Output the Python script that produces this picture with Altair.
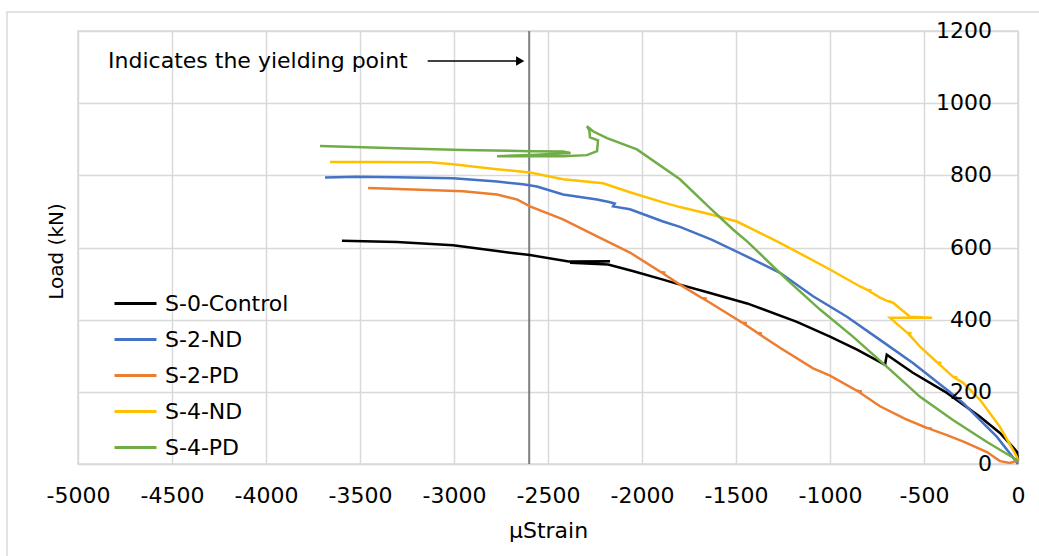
import altair as alt
import pandas as pd

FONT = "DejaVu Sans"

series_names = ["S-0-Control", "S-2-ND", "S-2-PD", "S-4-ND", "S-4-PD"]
series_colors = ["#000000", "#4472C4", "#ED7D31", "#FFC000", "#70AD47"]

x_tick_values = [-5000, -4500, -4000, -3500, -3000, -2500, -2000, -1500, -1000, -500, 0]
y_tick_values = [0, 200, 400, 600, 800, 1000, 1200]
y_tick_labels = ["0", "200", "400", "600", "800", "1000", "1200"]

# S-0-Control
s0_x = [0, -5, -27, -96, -202, -378, -559, -665, -698, -707, -856, -1000, -1176, -1441, -1638,
        -1798, -1888, -2050, -2180, -2383, -2170, -2390, -2596, -2771, -3005, -3303, -3596]
s0_y = [10, 33, 47, 86, 131, 197, 253, 291, 303, 275, 317, 353, 394, 445, 474,
        497, 511, 535, 553, 558, 562, 561, 579, 590, 606, 615, 619]

# S-2-ND
s1_x = [0, -16, -112, -292, -378, -559, -734, -910, -1090, -1266, -1441, -1630, -1798, -1888,
        -2064, -2154, -2145, -2175, -2239, -2420, -2559, -2633, -2771, -3005, -3303, -3516, -3686]
s1_y = [0, 11, 75, 169, 206, 280, 344, 408, 465, 530, 575, 622, 657, 672,
        706, 714, 722, 726, 733, 747, 769, 775, 783, 792, 795, 796, 794]

# S-2-PD
s2_x = [0, -43, -96, -165, -290, -378, -484, -458, -484, -600, -734, -856, -830, -856, -1000,
        -1090, -1266, -1388, -1362, -1388, -1468, -1442, -1468, -1638, -1681, -1655, -1681,
        -1798, -1888, -1900, -1875, -1900, -2064, -2239, -2420, -2596, -2665, -2771, -2952,
        -3218, -3457]
s2_y = [10, 3, 8, 33, 62, 80, 100, 98, 100, 125, 160, 203, 201, 203, 245,
        265, 322, 364, 362, 364, 392, 390, 392, 447, 460, 458, 460,
        497, 528, 532, 530, 532, 586, 631, 678, 714, 733, 747, 756,
        761, 765]

# S-4-ND
s3_x = [0, -5, -96, -202, -292, -346, -322, -346, -431, -407, -431, -521, -564, -590, -566,
        -590, -681, -457, -574, -665, -697, -673, -697, -734, -803, -779, -803, -840, -1000,
        -1266, -1495, -1638, -1798, -1888, -2064, -2207, -2420, -2596, -2771, -3005, -3128,
        -3394, -3660]
s3_y = [10, 19, 103, 178, 225, 242, 240, 242, 282, 280, 282, 325, 350, 364, 362,
        364, 405, 405, 408, 447, 452, 450, 452, 461, 483, 481, 483, 492, 539,
        613, 672, 692, 712, 725, 753, 778, 789, 808, 817, 831, 836,
        837, 837]

# S-4-PD
s4_x = [0, -5, -165, -346, -521, -697, -878, -1053, -1229, -1441, -1516, -1638, -1798, -2027,
        -2186, -2261, -2293, -2280, -2277, -2234, -2239, -2293, -2420, -2771, -2560, -2380, -2420,
        -2596, -2952, -3303, -3713]
s4_y = [5, 11, 61, 122, 186, 269, 353, 428, 511, 617, 650, 709, 789, 872,
        903, 922, 936, 925, 905, 897, 867, 856, 853, 853, 857, 862, 866,
        867, 870, 875, 881]

all_x = [s0_x, s1_x, s2_x, s3_x, s4_x]
all_y = [s0_y, s1_y, s2_y, s3_y, s4_y]

rows = []
for name, xs, ys in zip(series_names, all_x, all_y):
    for i, (xv, yv) in enumerate(zip(xs, ys)):
        rows.append({"series": name, "strain": xv, "load": yv, "idx": i})
df = pd.DataFrame(rows)

# annotation
yield_strain = [-2600]
note_text = ["Indicates the yielding point"]
note_x = [-4840]
note_y = [1117]
arrow_x = [-3140]
arrow_x2 = [-2640]
arrow_head_x = [-2648]

x_scale = alt.Scale(domain=[-5000, 0], nice=False)
y_scale = alt.Scale(domain=[0, 1200], nice=False)

lines = alt.Chart(df).mark_line(strokeWidth=2.5).encode(
    x=alt.X("strain:Q", scale=x_scale,
            axis=alt.Axis(title="µStrain", values=x_tick_values,
                          labelExpr="'' + datum.value", labelFlush=False,
                          labelFont=FONT, labelFontSize=22, labelColor="#000000",
                          labelBaseline="alphabetic", labelPadding=38,
                          ticks=False, tickSize=0, domain=False,
                          gridColor="#d9d9d9", gridWidth=1.5,
                          titleFont=FONT, titleFontSize=22, titleFontWeight="normal",
                          titleColor="#000000", titleBaseline="alphabetic", titleY=73)),
    y=alt.Y("load:Q", scale=y_scale,
            axis=alt.Axis(title="Load (kN)", orient="left", values=y_tick_values,
                          labels=False, ticks=False, tickSize=0, domain=False,
                          gridColor="#d9d9d9", gridWidth=1.5,
                          titleFont=FONT, titleFontSize=20, titleFontWeight="normal",
                          titleColor="#000000", titleAngle=270, titleX=-22, titleY=220,
                          titleAlign="center", titleBaseline="middle")),
    color=alt.Color("series:N",
                    scale=alt.Scale(domain=series_names, range=series_colors),
                    legend=alt.Legend(title=None, orient="none", legendX=35, legendY=250,
                                      symbolType="stroke", symbolSize=1764, symbolStrokeWidth=3,
                                      labelFont=FONT, labelFontSize=22, labelColor="#000000",
                                      labelOffset=7, rowPadding=2, padding=0)),
    order=alt.Order("idx:Q"),
)

ylab_df = pd.DataFrame({"v": y_tick_values, "t": y_tick_labels})
ylabels = alt.Chart(ylab_df).mark_text(align="right", baseline="middle", font=FONT,
                                       fontSize=22, color="#000000").encode(
    x=alt.value(914), y=alt.Y("v:Q", scale=y_scale), text="t:N"
)

yield_df = pd.DataFrame({"strain": yield_strain})
yield_rule = alt.Chart(yield_df).mark_rule(color="#7f7f7f", strokeWidth=2).encode(
    x=alt.X("strain:Q", scale=x_scale)
)

note_df = pd.DataFrame({"x": note_x, "y": note_y, "t": note_text})
note = alt.Chart(note_df).mark_text(align="left", baseline="middle", font=FONT,
                                    fontSize=22, color="#000000").encode(
    x=alt.X("x:Q", scale=x_scale), y=alt.Y("y:Q", scale=y_scale), text="t:N"
)

arrow_df = pd.DataFrame({"x": arrow_x, "x2": arrow_x2, "y": note_y})
arrow = alt.Chart(arrow_df).mark_rule(color="#000000", strokeWidth=1.5).encode(
    x=alt.X("x:Q", scale=x_scale), x2="x2:Q", y=alt.Y("y:Q", scale=y_scale)
)
head_df = pd.DataFrame({"x": arrow_head_x, "y": note_y})
head = alt.Chart(head_df).mark_point(shape="triangle-right", filled=True, size=90,
                                     color="#000000", opacity=1).encode(
    x=alt.X("x:Q", scale=x_scale), y=alt.Y("y:Q", scale=y_scale)
)

frame = alt.Chart(pd.DataFrame({"a": [0]})).mark_rect(
    fill=None, stroke="#d9d9d9", strokeWidth=1.5
).encode(x=alt.value(-71), x2=alt.value(980), y=alt.value(-19), y2=alt.value(560))

chart = alt.layer(frame, yield_rule, lines, ylabels, arrow, head, note).properties(
    width=940, height=433,
    autosize=alt.AutoSizeParams(type="none"),
    padding={"left": 78, "top": 31, "right": 21, "bottom": 92},
    background="#ffffff",
).configure_view(stroke="#d9d9d9", strokeWidth=1.5)

chart.save("out.html", embed_options={"renderer": "svg", "actions": False})
